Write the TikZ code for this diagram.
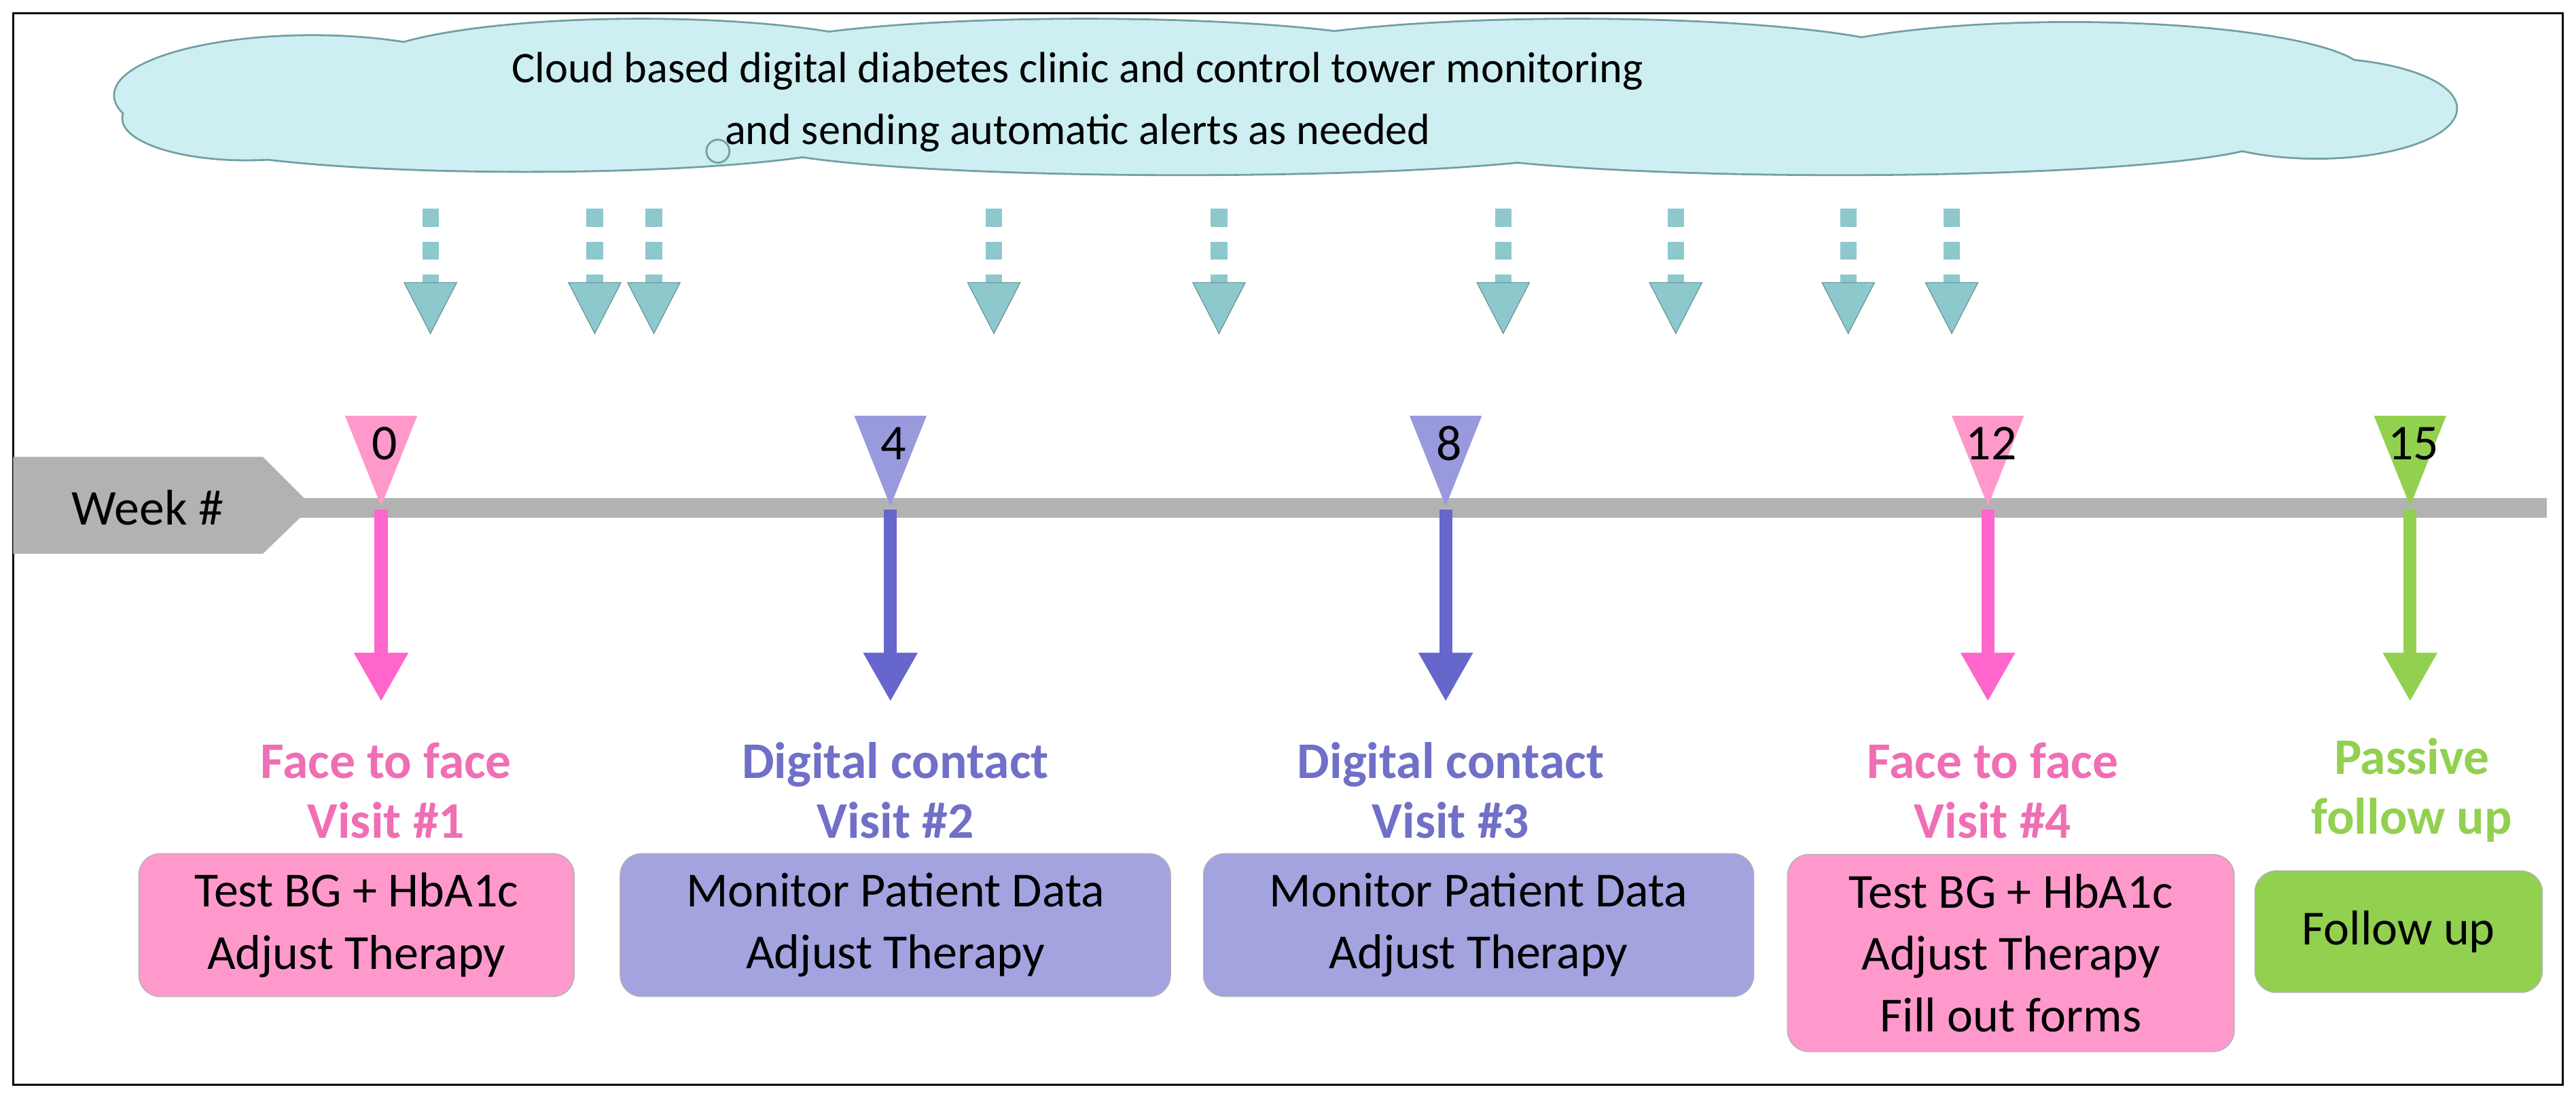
\documentclass[tikz,border=0pt]{standalone}
\usepackage{fontspec}
\setmainfont{Carlito}
\usetikzlibrary{arrows.meta}
\definecolor{pinkA}{HTML}{FF99CC}
\definecolor{pinkB}{HTML}{FF66CC}
\definecolor{pinkT}{HTML}{F06EB4}
\definecolor{purA}{HTML}{A3A3E0}
\definecolor{purM}{HTML}{9999DD}
\definecolor{purB}{HTML}{6666CC}
\definecolor{purT}{HTML}{7070C8}
\definecolor{grn}{HTML}{92D050}
\definecolor{teal}{HTML}{8CC8CC}
\definecolor{cloudfill}{HTML}{CDEFF2}
\tikzset{
  task/.style={rounded corners=9pt, draw=gray!60, align=center, font=\fontsize{20.5}{26}\selectfont, inner sep=4pt},
  title/.style={font=\bfseries\fontsize{21.5}{25}\selectfont, align=center},
  bigarrow/.style={line width=5.5pt, -{Triangle[width=0.75cm,length=0.72cm]}},
  weeklabel/.style={font=\fontsize{21}{24}\selectfont}
}
\newcommand\puffs{%
  (190,58) ellipse (120 and 36)
  (390,42) ellipse (170 and 30)
  (660,36) ellipse (210 and 24)
  (960,38) ellipse (210 and 26)
  (1260,46) ellipse (180 and 32)
  (1410,66) ellipse (85 and 30)
  (320,82) ellipse (210 and 22)
  (720,86) ellipse (260 and 20)
  (1120,84) ellipse (260 and 22)
  (150,72) ellipse (75 and 25)
  (782,62) ellipse (650 and 36)}
\begin{document}
\begin{tikzpicture}[x=0.02418cm,y=-0.02418cm]
\useasboundingbox (0,0) rectangle (1568,668);
\draw[line width=0.8pt] (8,8) rectangle (1560,660);

% cloud
\draw[teal!80!black, line width=1.6pt] \puffs;
\fill[cloudfill] \puffs;
\draw[teal!80!black, line width=0.8pt] (437,92) circle (7);
\node[align=center, font=\fontsize{18.3}{26}\selectfont] (cloudtext) at (656,62)
  {Cloud based digital diabetes clinic and control tower monitoring\\and sending automatic alerts as needed};

% alerts from the cloud
\foreach \x in {262,362,398,605,742,915,1020,1125,1188}{
  \fill[teal] (\x-5,127) rectangle (\x+5,138);
  \fill[teal] (\x-5,147) rectangle (\x+5,158);
  \fill[teal] (\x-5,167) rectangle (\x+5,172);
  \filldraw[fill=teal, draw=teal!70!black, line width=0.3pt] (\x-16,172) -- (\x+16,172) -- (\x,203) -- cycle;
}

% timeline
\fill[gray!60] (180,303) rectangle (1550,315);
\fill[gray!60] (8,278) -- (160,278) -- (190,308) -- (160,337) -- (8,337) -- cycle;
\node[weeklabel] (week) at (90,309) {Week \#};

% markers
\foreach \x/\c/\w in {232/pinkA/0,542/purM/4,880/purM/8,1210/pinkA/12,1467/grn/15}{
  \fill[\c] (\x-22,253) -- (\x+22,253) -- (\x,308) -- cycle;
  \node[weeklabel] at (\x+2,270) {\w};
}

% visits
\coordinate (t1) at (232,310);
\coordinate (t2) at (542,310);
\coordinate (t3) at (880,310);
\coordinate (t4) at (1210,310);
\coordinate (t5) at (1467,310);
\node[title, text=pinkT] (v1) at (235,481) {Face to face\\Visit \#1};
\node[title, text=purT] (v2) at (545,481) {Digital contact\\Visit \#2};
\node[title, text=purT] (v3) at (883,481) {Digital contact\\Visit \#3};
\node[title, text=pinkT] (v4) at (1213,481) {Face to face\\Visit \#4};
\node[title, text=grn] (v5) at (1468,481) {Passive\\follow up};
\draw[bigarrow, pinkB] (t1) -- (232,427);
\draw[bigarrow, purB] (t2) -- (542,427);
\draw[bigarrow, purB] (t3) -- (880,427);
\draw[bigarrow, pinkB] (t4) -- (1210,427);
\draw[bigarrow, grn] (t5) -- (1467,427);

% tasks
\node[task, fill=pinkA, minimum width=265*0.02418cm, minimum height=87*0.02418cm] (b1) at (217,563) {Test BG + HbA1c\\Adjust Therapy};
\node[task, fill=purA, minimum width=335*0.02418cm, minimum height=87*0.02418cm] (b2) at (545,563) {Monitor Patient Data\\Adjust Therapy};
\node[task, fill=purA, minimum width=335*0.02418cm, minimum height=87*0.02418cm] (b3) at (900,563) {Monitor Patient Data\\Adjust Therapy};
\node[task, fill=pinkA, minimum width=272*0.02418cm, minimum height=120*0.02418cm] (b4) at (1224,580) {Test BG + HbA1c\\Adjust Therapy\\Fill out forms};
\node[task, fill=grn, minimum width=175*0.02418cm, minimum height=74*0.02418cm] (b5) at (1460,567) {Follow up};
\end{tikzpicture}
\end{document}
